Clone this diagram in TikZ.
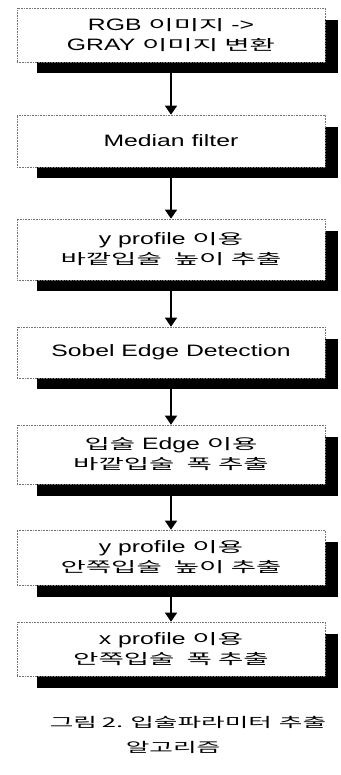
\documentclass[tikz,border=0pt]{standalone}
\usepackage{fontspec}
\setmainfont[FakeStretch=1.5]{Liberation Sans}
\newfontfamily\kr[FakeStretch=1.9]{Noto Sans CJK KR}
\newcommand\K[1]{{\kr\fontsize{14.5}{20}\selectfont #1}}
\usetikzlibrary{arrows.meta}
\tikzset{
  stepbox/.style={draw=black!55, densely dotted, line width=0.6pt, fill=white,
    minimum width=308pt, inner sep=0pt, align=center,
    font=\fontsize{16.5}{20}\selectfont},
  shadowbar/.style={fill=black, inner sep=0pt, minimum width=301pt},
  flow/.style={line width=1.2pt, -{Triangle[length=9pt,width=12pt]}},
  captext/.style={inner sep=0pt, font=\kr\fontsize{13.5}{20}\selectfont},
}
\begin{document}
\begin{tikzpicture}[x=1pt,y=-1pt]
\useasboundingbox (0,0) rectangle (340,775);
% shadows
\node[shadowbar, minimum height=53pt] (s1) at (187.5,46.5) {};
\node[shadowbar, minimum height=51pt] (s2) at (187.5,152.5) {};
\node[shadowbar, minimum height=60pt] (s3) at (187.5,261) {};
\node[shadowbar, minimum height=50pt] (s4) at (187.5,364) {};
\node[shadowbar, minimum height=59pt] (s5) at (187.5,466.5) {};
\node[shadowbar, minimum height=55pt] (s6) at (187.5,569.5) {};
\node[shadowbar, minimum height=54pt] (s7) at (187.5,661) {};
% boxes
\node[stepbox, minimum height=54pt] (b1) at (171,35) {RGB \K{이미지} ->\\GRAY \K{이미지 변환}};
\node[stepbox, minimum height=52pt] (b2) at (171,141) {Median filter};
\node[stepbox, minimum height=61pt] (b3) at (171,249.5) {y profile \K{이용}\\\K{바깥입술\hspace{12pt}높이 추출}};
\node[stepbox, minimum height=51pt] (b4) at (171,352.5) {Sobel Edge Detection};
\node[stepbox, minimum height=59pt] (b5) at (171,454.5) {\K{입술} Edge \K{이용}\\\K{바깥입술\hspace{12pt}폭 추출}};
\node[stepbox, minimum height=55pt] (b6) at (171,557.5) {y profile \K{이용}\\\K{안쪽입술\hspace{12pt}높이 추출}};
\node[stepbox, minimum height=54pt] (b7) at (171,649) {x profile \K{이용}\\\K{안쪽입술\hspace{12pt}폭 추출}};
% arrows
\draw[flow] (b1.center |- s1.south) -- (b2.north);
\draw[flow] (b2.center |- s2.south) -- (b3.north);
\draw[flow] (b3.center |- s3.south) -- (b4.north);
\draw[flow] (b4.center |- s4.south) -- (b5.north);
\draw[flow] (b5.center |- s5.south) -- (b6.north);
\draw[flow] (b6.center |- s6.south) -- (b7.north);
% caption
\node[captext] (c1) at (188,722) {그림\hspace{5pt}2.\hspace{7pt}입술파라미터\hspace{7pt}추출};
\node[captext] (c2) at (173,747) {알고리즘};
\end{tikzpicture}
\end{document}
